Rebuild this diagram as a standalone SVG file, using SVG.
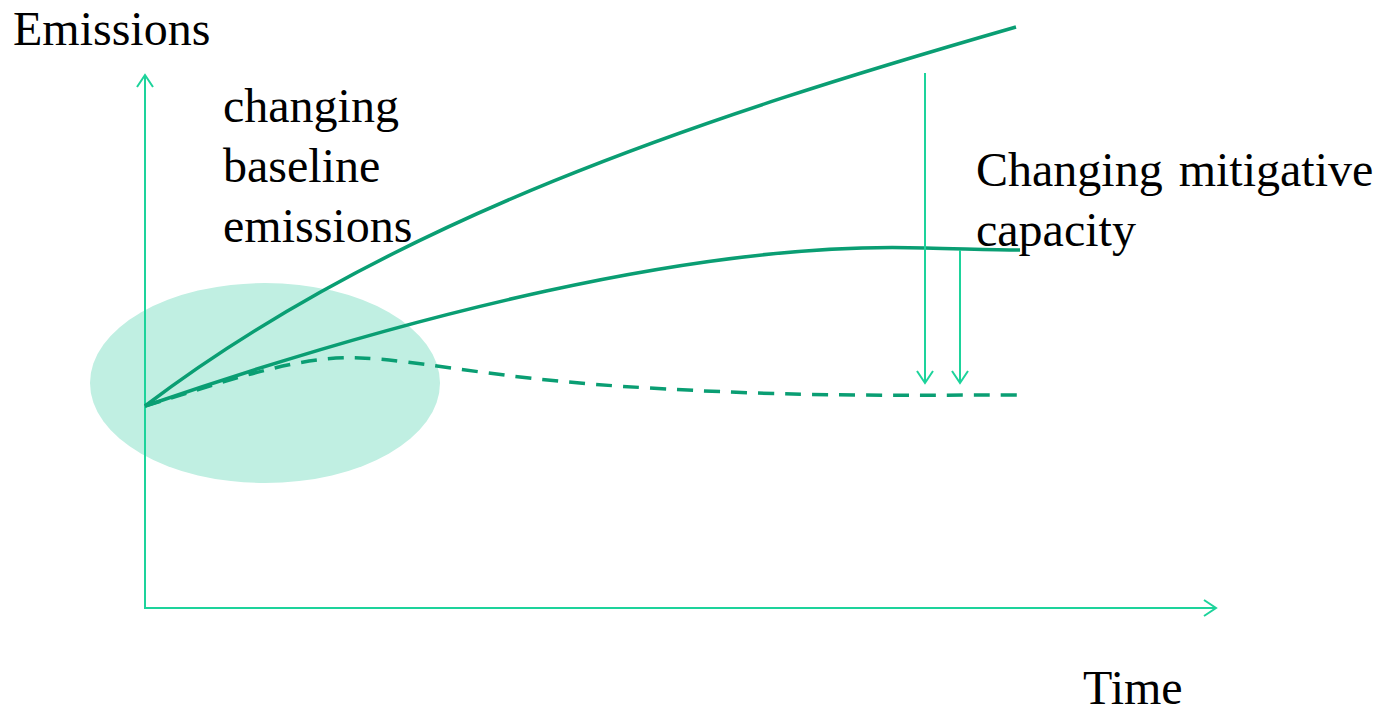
<svg xmlns="http://www.w3.org/2000/svg" width="1383" height="713" viewBox="0 0 1383 713">
<style>
.t{font-family:"Liberation Serif","Times New Roman",serif;font-size:48px;fill:#000}
.ax{stroke:#1dd39b;stroke-width:2;fill:none}
.cv{stroke:#0a9e73;stroke-width:3.5;fill:none}
.ds{stroke:#0a9e73;stroke-width:3.5;fill:none;stroke-dasharray:16 11}
</style>
<defs>
<marker id="ah" viewBox="0 0 20 20" refX="16" refY="10" markerWidth="20" markerHeight="20" markerUnits="userSpaceOnUse" orient="auto">
<path d="M4,2 L16,10 L4,18" fill="none" stroke="#1dd39b" stroke-width="2"/>
</marker>
</defs>
<rect width="1383" height="713" fill="#fff"/>
<g id="region">
<ellipse cx="265" cy="383" rx="175" ry="100" fill="#c0efe2"/>
</g>
<g id="axes">
<line class="ax" x1="145" y1="609" x2="145" y2="75" marker-end="url(#ah)"/>
<line class="ax" x1="144" y1="608" x2="1216" y2="608" marker-end="url(#ah)"/>
</g>
<g id="curves">
<path class="cv" d="M145,406 C390,220 700,118 1016,27"/>
<path class="cv" d="M145,406 C400,318 700,240 925,248 C970,249 1000,250 1020,250"/>
<path class="ds" d="M145,406 C230,380 300,355 360,358 C420,360 500,380 650,388 C800,397 900,395 1022,395"/>
</g>
<g id="connectors">
<line class="ax" x1="925" y1="73" x2="925" y2="383" marker-end="url(#ah)"/>
<line class="ax" x1="960" y1="250" x2="960" y2="383" marker-end="url(#ah)"/>
</g>
<g id="labels">
<text class="t" x="13" y="45">Emissions</text>
<text class="t" x="223" y="122">changing</text>
<text class="t" x="223" y="182">baseline</text>
<text class="t" x="223" y="242">emissions</text>
<text class="t" x="976" y="186" word-spacing="4">Changing mitigative</text>
<text class="t" x="976" y="246">capacity</text>
<text class="t" x="1083" y="704">Time</text>
</g>
</svg>
